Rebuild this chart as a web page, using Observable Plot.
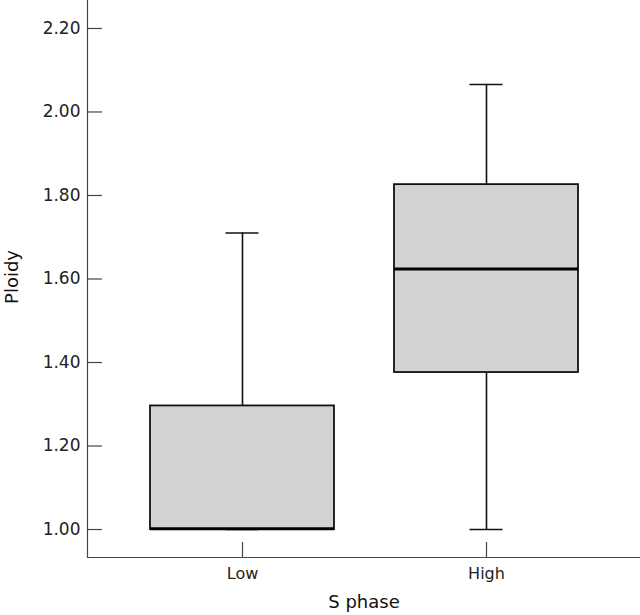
<!DOCTYPE html>
<html>
<head>
<meta charset="utf-8">
<script src="https://cdn.jsdelivr.net/npm/d3@7"></script>
<script src="https://cdn.jsdelivr.net/npm/@observablehq/plot@0.6"></script>
<style>
  html, body { margin: 0; padding: 0; background: #fff; }
  svg { display: block; }
</style>
</head>
<body>
<div id="chart"></div>
<script>
// Data
const groups = ["Low", "High"];
const whiskerLow = [1.00, 1.00];
const q1 = [1.00, 1.376];
const median = [1.002, 1.624];
const q3 = [1.296, 1.826];
const whiskerHigh = [1.71, 2.066];
const yTicks = [1.00, 1.20, 1.40, 1.60, 1.80, 2.00, 2.20];
const yDomain = [0.933, 2.267];
const xLabel = "S phase";
const yLabel = "Ploidy";

const rows = groups.map((g, i) => ({
  group: g, lo: whiskerLow[i], q1: q1[i], med: median[i], q3: q3[i], hi: whiskerHigh[i]
}));

const font = "'DejaVu Sans', sans-serif";
const axisColor = "#444";

const chart = Plot.plot({
  width: 640,
  height: 615,
  marginLeft: 87,
  marginRight: 0,
  marginTop: 0,
  marginBottom: 58,
  style: { fontFamily: font, fontSize: "15px", color: "#111", background: "#fff" },
  x: { type: "band", domain: groups, paddingInner: 0.246, paddingOuter: 0.256, axis: null },
  y: { domain: yDomain, axis: null },
  marks: [
    // whiskers (lower and upper)
    Plot.ruleX(rows, { x: "group", y1: "lo", y2: "q1", stroke: "#111", strokeWidth: 1.6 }),
    Plot.ruleX(rows, { x: "group", y1: "q3", y2: "hi", stroke: "#111", strokeWidth: 1.6 }),
    // whisker caps
    Plot.tickY(rows, { x: "group", y: "hi", stroke: "#111", strokeWidth: 1.6, insetLeft: 75.5, insetRight: 75.5 }),
    Plot.tickY(rows, { x: "group", y: "lo", stroke: "#111", strokeWidth: 1.6, insetLeft: 75.5, insetRight: 75.5 }),
    // boxes
    Plot.barY(rows, { x: "group", y1: "q1", y2: "q3", fill: "#d2d2d2", stroke: "#111", strokeWidth: 1.8 }),
    // medians
    Plot.tickY(rows, { x: "group", y: "med", stroke: "#000", strokeWidth: 3 }),
    // axis lines
    Plot.ruleY([yDomain[0]], { stroke: axisColor, strokeWidth: 1.2 }),
    Plot.frame({ anchor: "left", stroke: axisColor, strokeWidth: 1.2 }),
    // y axis ticks (inward) and labels
    Plot.axisY(yTicks, { tickSize: -15, text: null, stroke: axisColor, strokeWidth: 1.2, label: null }),
    Plot.axisY(yTicks, { tickSize: 0, tickPadding: 7, tickFormat: d3.format(".2f"), fontSize: 17, fill: "#222", label: null }),
    // x axis ticks (inward) and labels
    Plot.axisX(groups, { tickSize: -15, text: null, stroke: axisColor, strokeWidth: 1.2, label: null }),
    Plot.axisX(groups, { tickSize: 0, tickPadding: 10, fontSize: 16, fill: "#222", label: null }),
    // axis titles
    Plot.text([xLabel], { frameAnchor: "bottom", textAnchor: "middle", lineAnchor: "middle", dy: 45, fontSize: 18, fill: "#111" }),
    Plot.text([yLabel], { frameAnchor: "left", textAnchor: "middle", lineAnchor: "middle", dx: -75, dy: -2, rotate: -90, fontSize: 18, fill: "#111" })
  ]
});

document.getElementById("chart").appendChild(chart);
</script>
</body>
</html>
